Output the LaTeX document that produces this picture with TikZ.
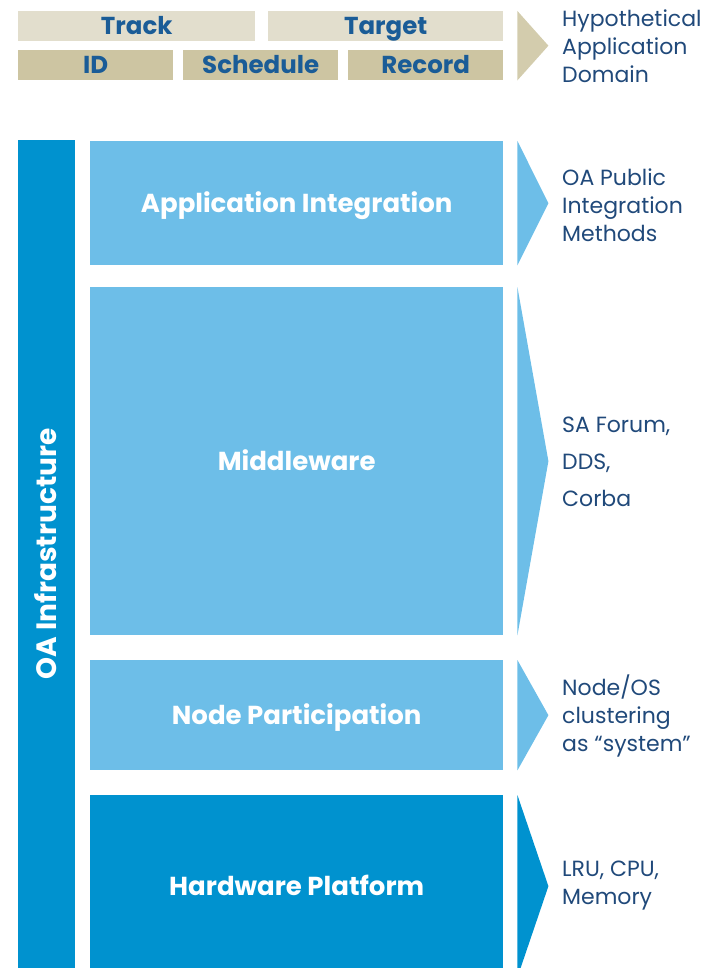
\documentclass[tikz,border=0pt]{standalone}
\usepackage{fontspec}
\setmainfont{Poppins}
\usetikzlibrary{calc}
\definecolor{beigelight}{HTML}{E2DECD}
\definecolor{beigedark}{HTML}{CDC5A2}
\definecolor{beigearrow}{HTML}{D3CCAD}
\definecolor{skyblue}{HTML}{6DBEE8}
\definecolor{oablue}{HTML}{0092CF}
\definecolor{labelblue}{HTML}{1A5C97}
\definecolor{noteblue}{HTML}{20497A}
\tikzset{
  domainbox/.style={fill=#1, text=labelblue, inner sep=0pt, anchor=north west,
    minimum height=30pt, text height=17pt, text depth=0pt,
    font=\bfseries\fontsize{24.5}{24.5}\selectfont},
  layerbox/.style={fill=#1, text=white, inner sep=0pt, anchor=north west,
    minimum width=413pt, text height=18pt, text depth=0pt,
    font=\bfseries\fontsize{26}{26}\selectfont},
  note/.style={anchor=west, align=left, inner sep=0pt, text=noteblue,
    font=\fontsize{22}{28}\selectfont}
}
\begin{document}
\begin{tikzpicture}[x=1pt,y=-1pt]
  \clip (0,0) rectangle (708,968);
  % application domain
  \node[domainbox=beigelight, minimum width=237pt] (track) at (18,11) {Track};
  \node[domainbox=beigelight, minimum width=235pt] (target) at (268,11) {Target};
  \node[domainbox=beigedark, minimum width=155pt] (id) at (18,50) {ID};
  \node[domainbox=beigedark, minimum width=155pt] (sched) at (183,50) {Schedule};
  \node[domainbox=beigedark, minimum width=155pt] (record) at (348,50) {Record};
  \fill[beigearrow] ([xshift=14pt]target.north east)
    -- ($(target.north east)!0.5!(record.south east)+(45,0)$)
    -- ([xshift=14pt]record.south east) -- cycle;
  % infrastructure bar
  \node[fill=oablue, text=white, rotate=90, minimum width=828pt, minimum height=57pt,
    inner sep=0pt, text height=19.5pt, text depth=0pt,
    font=\bfseries\fontsize{28}{28}\selectfont] (infra) at (46.5,554) {OA Infrastructure};
  % four layers
  \node[layerbox=skyblue, minimum height=124pt] (appint) at (90,141) {Application Integration};
  \node[layerbox=skyblue, minimum height=348pt] (middle) at (90,287) {Middleware};
  \node[layerbox=skyblue, minimum height=110pt] (nodepart) at (90,660) {Node Participation};
  \node[layerbox=oablue, minimum height=182pt] (hwplat) at (90,795) {Hardware Platform};
  \foreach \lay/\col in {appint/skyblue, middle/skyblue, nodepart/skyblue, hwplat/oablue}
    \fill[\col] ([xshift=14pt]\lay.north east) -- ([xshift=45pt]\lay.east)
      -- ([xshift=14pt]\lay.south east) -- cycle;
  % notes
  \node[note] (domnote) at (562,46) {Hypothetical\\Application\\Domain};
  \node[note] (appnote) at (562,205) {OA Public\\Integration\\Methods};
  \node[note, font=\fontsize{22}{37}\selectfont] (midnote) at (562,462) {SA Forum,\\DDS,\\Corba};
  \node[note] (nodenote) at (562,716) {Node/OS\\clustering\\as “system”};
  \node[note] (hwnote) at (562,886) {LRU, CPU,\\Memory};
\end{tikzpicture}
\end{document}
